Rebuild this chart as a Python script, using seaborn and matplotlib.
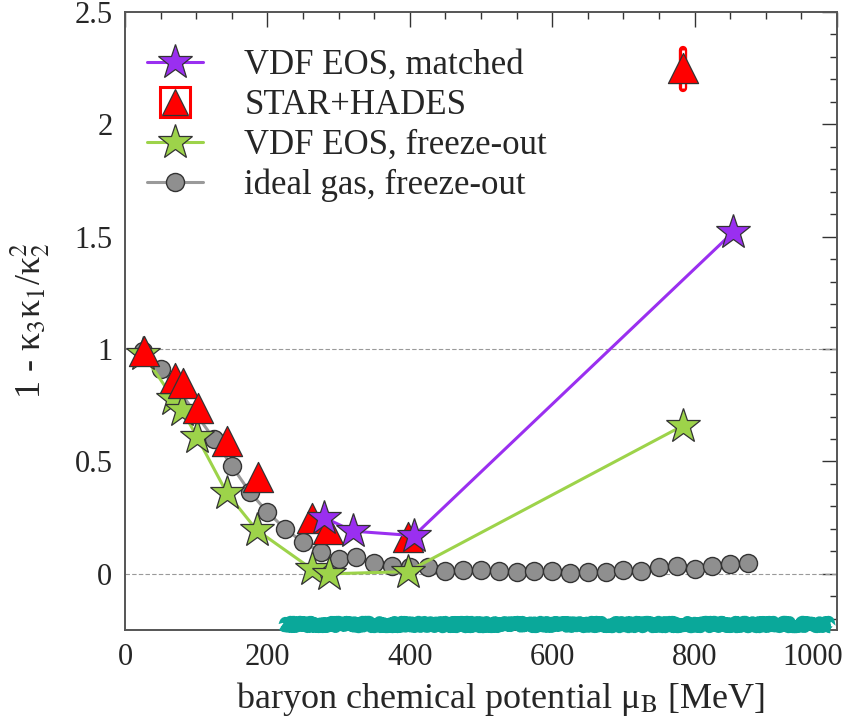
import matplotlib
matplotlib.use("Agg")
import matplotlib.pyplot as plt
from matplotlib.lines import Line2D
from matplotlib.legend_handler import HandlerTuple
from matplotlib.ticker import MultipleLocator
import matplotlib.transforms as mtransforms
import seaborn as sns

# ---- data -------------------------------------------------------------
mu_matched = [280, 320, 406, 854]
r_matched = [0.25, 0.19, 0.17, 1.52]

mu_exp = [26, 70, 81, 102, 143, 187, 263, 285, 398]
r_exp = [0.99, 0.87, 0.85, 0.74, 0.59, 0.43, 0.25, 0.20, 0.165]
mu_hades = [784]
r_hades = [2.25]
hades_err_lo = [2.16]
hades_err_hi = [2.33]

mu_vdf_fo = [25, 68, 80, 101, 143, 185, 263, 287, 397, 784]
r_vdf_fo = [0.98, 0.78, 0.73, 0.61, 0.36, 0.195, 0.02, 0.0, 0.01, 0.66]

mu_ideal = [25, 50, 75, 100, 125, 150, 175, 200, 225, 250, 275, 300, 325,
            350, 375, 400, 425, 450, 475, 500, 525, 550, 575, 600, 625,
            650, 675, 700, 725, 750, 775, 800, 825, 850, 875]
r_ideal = [0.99, 0.91, 0.82, 0.71, 0.60, 0.48, 0.365, 0.275, 0.20, 0.14,
           0.098, 0.066, 0.075, 0.05, 0.036, 0.03, 0.03, 0.014, 0.016,
           0.018, 0.014, 0.008, 0.014, 0.014, 0.004, 0.009, 0.008, 0.018,
           0.014, 0.032, 0.035, 0.022, 0.036, 0.044, 0.049]

band_mu = [220, 990]
band_r = [-0.222, -0.222]

labels = ["VDF EOS, matched", "STAR+HADES", "VDF EOS, freeze-out",
          "ideal gas, freeze-out"]
x_ticks = [0, 200, 400, 600, 800, 1000]
y_ticks = [0, 0.5, 1, 1.5, 2, 2.5]
y_ticklabels = ["0", "0.5", "1", "1.5", "2", "2.5"]

# ---- style ------------------------------------------------------------
sns.set_theme(style="white")
plt.rcParams["font.family"] = ["Liberation Serif", "DejaVu Serif"]
plt.rcParams["mathtext.fontset"] = "stix"

PURPLE = "#9a2ff0"
RED = "#ff0000"
GREEN = "#9dd34a"
GRAY_FACE = "#8f8f8f"
GRAY_LINE = "#9a9a9a"
TEAL = "#0aa89a"
EDGE = "#333333"
STAR_MS = 26

fig = plt.figure(figsize=(8.48, 7.27), dpi=100)
ax = fig.add_axes([0.1474, 0.1334, 0.8396, 0.8501])

# reference lines
for yv in (0, 1):
    ax.axhline(yv, color="#9a9a9a", lw=0.8, ls=(0, (4, 2)), zorder=1)

# ideal gas
sns.lineplot(x=mu_ideal, y=r_ideal, sort=False, estimator=None, ax=ax,
             color=GRAY_LINE, lw=2.2, marker="o", markersize=13,
             markerfacecolor=GRAY_FACE, markeredgecolor=EDGE,
             markeredgewidth=1.0, zorder=3)

# VDF freeze-out
sns.lineplot(x=mu_vdf_fo, y=r_vdf_fo, sort=False, estimator=None, ax=ax,
             color=GREEN, lw=2.2, marker="*", markersize=STAR_MS,
             markerfacecolor=GREEN, markeredgecolor=EDGE,
             markeredgewidth=0.9, zorder=4)

# STAR + HADES data
ax.plot([mu_hades[0], mu_hades[0]], [hades_err_lo[0], hades_err_hi[0]],
        color=RED, lw=6, solid_capstyle="round", zorder=5)
ax.plot([mu_hades[0], mu_hades[0]], [hades_err_lo[0], hades_err_hi[0]],
        color="white", lw=2, solid_capstyle="butt", zorder=5)
sns.scatterplot(x=mu_exp + mu_hades, y=r_exp + r_hades, ax=ax, marker="^",
                s=470, color=RED, edgecolor=EDGE, linewidth=0.9, zorder=6)

# VDF matched
sns.lineplot(x=mu_matched, y=r_matched, sort=False, estimator=None, ax=ax,
             color=PURPLE, lw=2.2, marker="*", markersize=STAR_MS,
             markerfacecolor=PURPLE, markeredgecolor=EDGE,
             markeredgewidth=0.9, zorder=7)

# teal band near the bottom
band, = ax.plot(band_mu, band_r, color=TEAL, lw=9, solid_capstyle="butt",
                zorder=8, clip_on=False)
band.set_sketch_params(scale=2.5, length=4, randomness=6)

# ---- axes -------------------------------------------------------------
ax.set_xlim(0, 1000)
ax.set_ylim(-0.25, 2.5)
ax.set_xticks(x_ticks)
ax.set_xticklabels([str(v) for v in x_ticks])
ax.xaxis.set_minor_locator(MultipleLocator(50))
ax.set_yticks(y_ticks)
ax.set_yticklabels(y_ticklabels)
ax.yaxis.set_minor_locator(MultipleLocator(0.1))
ax.tick_params(which="both", direction="in", top=True, right=True,
               color="#333333", labelsize=22, width=1.0)
ax.tick_params(which="major", length=11, pad=9)
ax.tick_params(which="minor", length=5)
for s in ax.spines.values():
    s.set_color("#555555")
    s.set_linewidth(1.4)

# keep the last x tick label inside the figure
last = ax.get_xticklabels()[-1]
last.set_horizontalalignment("right")
last.set_transform(last.get_transform() +
                   mtransforms.ScaledTranslation(6 / 100, 0,
                                                 fig.dpi_scale_trans))

ax.set_xlabel(r"baryon chemical potential μ$_{\mathrm{B}}$ [MeV]",
              fontsize=26, labelpad=6)
ax.xaxis.label.set_x(0.528)
ax.set_ylabel(r"1 - κ$_3$κ$_1$/κ$_2^2$", fontsize=26, labelpad=16)

# ---- legend -----------------------------------------------------------
h_matched = Line2D([], [], color=PURPLE, lw=2.2, marker="*",
                   markersize=STAR_MS, markerfacecolor=PURPLE,
                   markeredgecolor=EDGE, markeredgewidth=0.9)
h_box = Line2D([], [], ls="none", marker="s", markersize=21,
               markerfacecolor="white", markeredgecolor=RED,
               markeredgewidth=2.2)
h_tri = Line2D([], [], ls="none", marker="^", markersize=19,
               markerfacecolor=RED, markeredgecolor=EDGE, markeredgewidth=0.9)
h_fo = Line2D([], [], color=GREEN, lw=2.2, marker="*", markersize=STAR_MS,
              markerfacecolor=GREEN, markeredgecolor=EDGE,
              markeredgewidth=0.9)
h_ideal = Line2D([], [], color=GRAY_LINE, lw=2.2, marker="o", markersize=13,
                 markerfacecolor=GRAY_FACE, markeredgecolor=EDGE,
                 markeredgewidth=1.0)
ax.legend([h_matched, (h_box, h_tri), h_fo, h_ideal], labels,
          handler_map={tuple: HandlerTuple(ndivide=1, pad=0)},
          loc="upper left", bbox_to_anchor=(0.031, 0.94), frameon=False,
          fontsize=25, handlelength=1.6, handletextpad=1.2,
          labelspacing=0.2, borderpad=0, borderaxespad=0)

fig.savefig("out.png", dpi=100)
